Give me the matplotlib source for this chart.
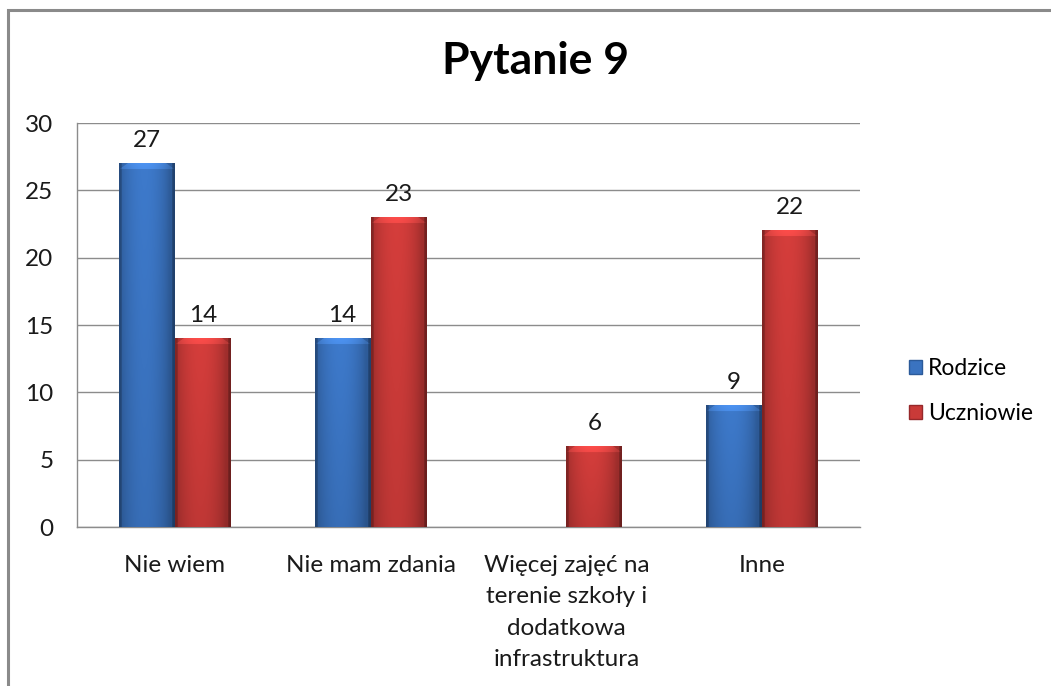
import matplotlib
matplotlib.use("Agg")
import matplotlib.pyplot as plt
import numpy as np
from matplotlib.colors import to_rgb
from matplotlib.patches import Rectangle

categories = ["Nie wiem", "Nie mam zdania",
              "Więcej zajęć na\nterenie szkoły i\ndodatkowa\ninfrastruktura", "Inne"]
rodzice = [27, 14, np.nan, 9]
uczniowie = [14, 23, 6, 22]
series_names = ["Rodzice", "Uczniowie"]
yticks = [0, 5, 10, 15, 20, 25, 30]

plt.rcParams["font.family"] = ["Lato", "DejaVu Sans"]

BLUE = "#3a73c0"
RED = "#c93a38"
FS = 17.5


def bar_image(color, height_px, bevel_px=6):
    # horizontal shading like the excel "bevel" bars, lighter strip on top
    base = np.array(to_rgb(color))
    xs = np.linspace(0, 1, 40)
    shade = 0.80 + 0.26 * np.sin(np.pi * np.clip(xs * 1.1, 0, 1)) ** 0.7
    shade[:2] = 0.66
    shade[-2:] = 0.58
    row = np.clip(base[None, :] * shade[:, None], 0, 1)
    n = max(int(height_px), 2)
    img = np.repeat(row[None, :, :], n, axis=0)
    b = min(bevel_px, n // 2)
    for i in range(b):
        lo, hi = b - i, 40 - (b - i)
        k = 1.12 + 0.04 * (b - i) / b
        img[i, lo:hi] = np.clip(img[i, lo:hi] * k + 0.02, 0, 1)
    # slight darkening toward the bottom
    fade = np.linspace(1.0, 0.9, n)[:, None, None]
    img = img * fade
    return img


fig = plt.figure(figsize=(10.51, 6.86), dpi=100)
fig.patches.append(Rectangle((8 / 1051, -0.5), 1.5, 1.5 - 10 / 686,
                             transform=fig.transFigure, fill=False,
                             edgecolor="#8a8a8a", linewidth=2.2, zorder=0))
ax = fig.add_axes([77 / 1051, 1 - 527 / 686, (860 - 77) / 1051, (527 - 123) / 686])

x = np.arange(len(categories))
w = 0.286
ax.set_xlim(-0.5, len(categories) - 0.5)
ax.set_ylim(0, 30)
fig.canvas.draw()

for vals, col, off in [(rodzice, BLUE, -w / 2), (uczniowie, RED, w / 2)]:
    bars = ax.bar(x + off, vals, width=w, color=col, edgecolor="none", zorder=2)
    for b, v in zip(bars, vals):
        if np.isnan(v):
            continue
        x0, y0 = b.get_x(), b.get_y()
        x1, y1 = x0 + b.get_width(), y0 + b.get_height()
        p0 = ax.transData.transform((x0, y0))
        p1 = ax.transData.transform((x1, y1))
        img = bar_image(col, p1[1] - p0[1])
        ax.imshow(img, extent=(x0, x1, y0, y1), aspect="auto", zorder=3,
                  interpolation="bilinear")
        ax.annotate(f"{v:g}", (b.get_x() + b.get_width() / 2, y1),
                    xytext=(0, 9), textcoords="offset points",
                    ha="center", va="bottom", fontsize=FS, color="#1a1a1a")

ax.set_xlim(-0.5, len(categories) - 0.5)
ax.set_ylim(0, 30)
ax.set_xticks(x)
ax.set_xticklabels(categories, fontsize=FS, linespacing=1.62, color="#1a1a1a")
ax.set_yticks(yticks)
ax.set_yticklabels([str(t) for t in yticks], fontsize=FS, color="#1a1a1a")
ax.tick_params(axis="x", length=0, pad=20)
ax.tick_params(axis="y", length=0, pad=17)
ax.yaxis.grid(True, color="#8c8c8c", linewidth=1.0, zorder=1)
ax.set_axisbelow(True)
for s in ["top", "right"]:
    ax.spines[s].set_visible(False)
for s in ["left", "bottom"]:
    ax.spines[s].set_color("#8c8c8c")
    ax.spines[s].set_linewidth(1.0)

fig.text(536 / 1051, 1 - 61 / 686, "Pytanie 9", ha="center", va="center",
         fontsize=32, fontweight="bold", color="black")

# legend
handles = [Rectangle((0, 0), 1, 1, facecolor=BLUE, edgecolor="#2b5a99"),
           Rectangle((0, 0), 1, 1, facecolor=RED, edgecolor="#96282a")]
fig.legend(handles, series_names, loc="center left",
           bbox_to_anchor=(888 / 1051, 1 - 391 / 686), frameon=False,
           fontsize=16.5, handlelength=0.6, handleheight=0.6, handletextpad=0.25,
           labelspacing=1.05)

fig.savefig("out.png", dpi=100, facecolor="white")
